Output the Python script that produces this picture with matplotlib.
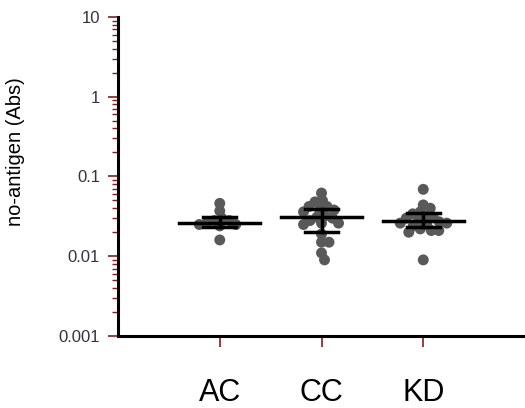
import numpy as np
import matplotlib.pyplot as plt

plt.rcParams['font.family'] = ['Liberation Sans', 'DejaVu Sans']

groups = ['AC', 'CC', 'KD']
ac_vals = [0.046, 0.037, 0.030, 0.028, 0.028, 0.026, 0.025, 0.025, 0.024, 0.016]
cc_vals = [0.062, 0.050, 0.048, 0.042, 0.042, 0.038, 0.038, 0.036, 0.032, 0.031,
           0.030, 0.028, 0.026, 0.026, 0.025, 0.019, 0.015, 0.015, 0.011, 0.009]
kd_vals = [0.069, 0.044, 0.040, 0.036, 0.034, 0.031, 0.031, 0.030, 0.028, 0.027,
           0.026, 0.026, 0.025, 0.024, 0.022, 0.021, 0.021, 0.020, 0.009]
centers = [0.0264, 0.0313, 0.0277]
err_low = [0.0231, 0.0203, 0.0235]
err_high = [0.0313, 0.0395, 0.0352]

red = '#8b1a1a'
dot = '#595959'

fig = plt.figure(figsize=(5.25, 4.08), dpi=100)
ax = fig.add_axes([0.2248, 0.1765, 0.7752, 0.7819])
ax.set_yscale('log')
ax.set_xlim(0, 4)
ax.set_ylim(0.001, 10)


def swarm(xc, vals, diam):
    # simple beeswarm in pixel space
    tr = ax.transData
    placed = []
    out = []
    for v in sorted(vals, key=lambda t: -t):
        px, py = tr.transform((xc, v))
        best = None
        for k in range(0, 200):
            for s in ([1] if k == 0 else [1, -1]):
                cand = px + s * k * 0.5
                if all((cand - qx) ** 2 + (py - qy) ** 2 >= diam ** 2 for qx, qy in placed):
                    best = cand
                    break
            if best is not None:
                break
        placed.append((best, py))
        out.append(tr.inverted().transform((best, py)))
    return np.array(out)


diam = 7.5
for i, vals in enumerate([ac_vals, cc_vals, kd_vals]):
    xc = i + 1
    pts = swarm(xc, vals, diam)
    ax.scatter(pts[:, 0], pts[:, 1], s=62, color=dot, edgecolors='none', zorder=2)
    ax.plot([xc - 0.4, xc + 0.4], [centers[i], centers[i]], color='black', lw=2.5, zorder=3)
    ax.plot([xc, xc], [err_low[i], err_high[i]], color='black', lw=2.5, zorder=3)
    for e in (err_low[i], err_high[i]):
        ax.plot([xc - 0.16, xc + 0.16], [e, e], color='black', lw=2.5, zorder=3)

for side in ['top', 'right']:
    ax.spines[side].set_visible(False)
for side in ['left', 'bottom']:
    ax.spines[side].set_linewidth(2.2)
    ax.spines[side].set_color('black')

ax.set_yticks([0.001, 0.01, 0.1, 1, 10])
ax.set_yticklabels(['0.001', '0.01', '0.1', '1', '10'], fontsize=12, color='#333340')
ax.tick_params(axis='y', which='major', direction='out', length=7, width=1.2, color=red, pad=6)
ax.tick_params(axis='y', which='minor', direction='out', length=4, width=1.0, color=red)
ax.set_xticks([1, 2, 3])
ax.set_xticklabels(groups, fontsize=22)
ax.tick_params(axis='x', direction='out', length=8, width=1.2, color=red, pad=22)
ax.set_ylabel('no-antigen (Abs)', fontsize=14.5)
ax.yaxis.set_label_coords(-0.228, 0.577)

fig.savefig('out.png', dpi=100)
